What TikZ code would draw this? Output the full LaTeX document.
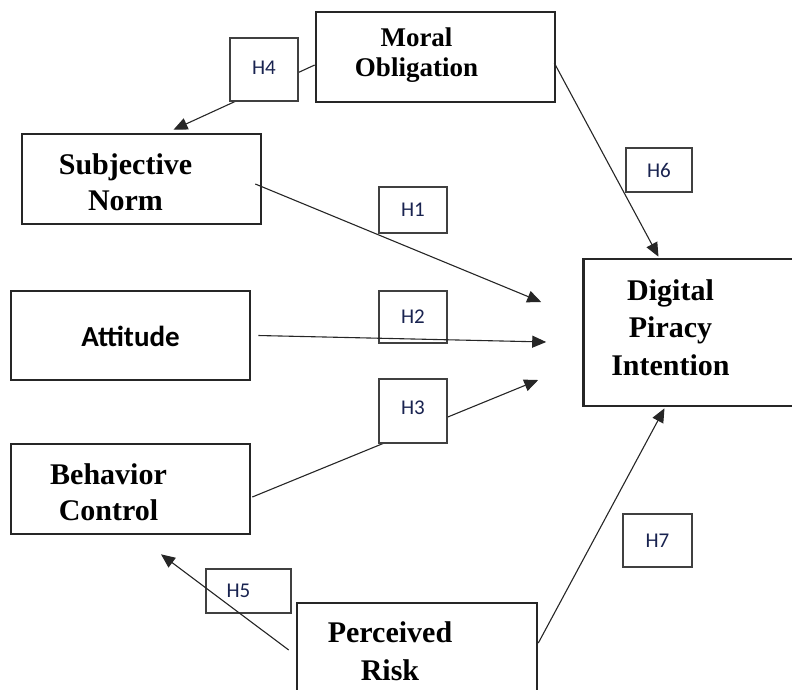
\documentclass[tikz,border=0pt]{standalone}
\usepackage{fontspec}
\setmainfont{Liberation Serif}
\newfontfamily\calibri{Carlito}
\usetikzlibrary{arrows.meta}
\usetikzlibrary{positioning, calc}
\definecolor{hypblue}{RGB}{25,35,80}

\begin{document}
\begin{tikzpicture}[x=1pt, y=-1pt,
    factor/.style={draw=black!85, line width=2.6pt, minimum width=239pt, minimum height=90pt, inner sep=0pt},
    ftext/.style={font=\bfseries\fontsize{30}{36}\selectfont, align=center, inner sep=0pt},
    hyp/.style={draw=black!75, line width=1.1pt, fill=white, font=\calibri\fontsize{21}{24}\selectfont, text=hypblue, inner sep=0pt},
    path arrow/.style={draw=black!85, line width=1.1pt, -{Triangle[length=14pt, width=12pt]}}
]
    \clip (0,0) rectangle (792,689);

    \draw (435.5,57) node[factor, label={[ftext, font=\bfseries\fontsize{27}{30}\selectfont, xshift=-19pt, yshift=2pt]center:{Moral\\Obligation}}] (moral) {};
    \draw (141.5,179) node[factor, label={[ftext, xshift=-16pt, yshift=-3pt]center:{Subjective\\Norm}}] (subj) {};
    \draw (130.5,335.5) node[factor, minimum height=89pt, label={[ftext, font=\calibri\bfseries\fontsize{29}{34}\selectfont, yshift=-1pt]center:{Attitude}}] (att) {};
    \draw (130.5,489) node[factor, label={[ftext, xshift=-22pt, yshift=-3pt]center:{Behavior\\Control}}] (beh) {};
    \draw (417,648) node[factor, minimum width=240pt, label={[ftext, font=\bfseries\fontsize{30}{38}\selectfont, xshift=-27pt, yshift=-3pt]center:{Perceived\\Risk}}] (risk) {};
    \draw (703.5,332.5) node[factor, minimum width=240pt, minimum height=147pt, label={[ftext, font=\bfseries\fontsize{30}{37.5}\selectfont, xshift=-33pt, yshift=5pt]center:{Digital\\Piracy\\Intention}}] (dpi) {};

    % hypothesis boxes under the lines
    \draw (413,317) node[hyp, fill=none, minimum width=68pt, minimum height=52pt] (h2) {H2};
    \draw (248.5,591) node[hyp, fill=none, minimum width=85pt, minimum height=44pt] (h5) {\hspace*{-20pt}H5};

    % Paths:
    \draw[path arrow] ($(moral.west)+(0,8)$) -- ($(subj.north)+(32,-3)$);
    \draw[path arrow] ($(subj.east)+(-7,5)$) -- ($(dpi.west)+(-41,-30.5)$);
    \draw[path arrow] ($(att.east)+(7,0)$) -- ($(dpi.west)+(-36,9.5)$);
    \draw[path arrow] ($(beh.east)+(1,8)$) -- ($(dpi.west)+(-44,47.5)$);
    \draw[path arrow] ($(risk.west)+(-7,2)$) -- ($(beh.south)+(30.5,19)$);
    \draw[path arrow] ($(moral.east)+(-2,6)$) -- ($(dpi.north)+(-45,-1)$);
    \draw[path arrow] ($(risk.east)+(0,-5)$) -- ($(dpi.south)+(-39,1)$);

    % hypothesis boxes over the lines
    \draw (264,69.5) node[hyp, minimum width=68pt, minimum height=63pt] (h4) {\raisebox{4pt}{H4}};
    \draw (413,210) node[hyp, minimum width=68pt, minimum height=46pt] (h1) {H1};
    \draw (413,411) node[hyp, minimum width=68pt, minimum height=64pt] (h3) {\raisebox{7pt}{H3}};
    \draw (659,170) node[hyp, minimum width=66pt, minimum height=44pt] (h6) {H6};
    \draw (657.5,540.5) node[hyp, minimum width=69pt, minimum height=53pt] (h7) {H7};
\end{tikzpicture}
\end{document}
